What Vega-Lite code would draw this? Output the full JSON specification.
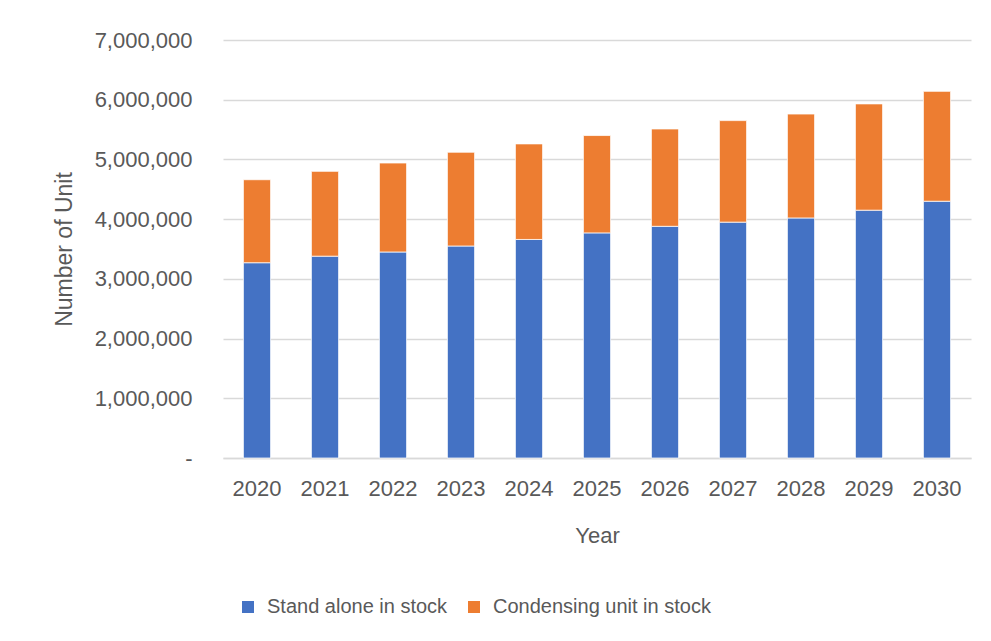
{
  "$schema": "https://vega.github.io/schema/vega-lite/v6.json",
  "width": 748,
  "height": 418,
  "autosize": {"type": "none"},
  "padding": {"left": 223, "top": 40, "right": 20, "bottom": 183},
  "background": "white",
  "data": {
    "values": [
      {"year": "2020", "series": "Stand alone in stock", "units": 3270000},
      {"year": "2020", "series": "Condensing unit in stock", "units": 1390000},
      {"year": "2021", "series": "Stand alone in stock", "units": 3380000},
      {"year": "2021", "series": "Condensing unit in stock", "units": 1420000},
      {"year": "2022", "series": "Stand alone in stock", "units": 3450000},
      {"year": "2022", "series": "Condensing unit in stock", "units": 1490000},
      {"year": "2023", "series": "Stand alone in stock", "units": 3550000},
      {"year": "2023", "series": "Condensing unit in stock", "units": 1570000},
      {"year": "2024", "series": "Stand alone in stock", "units": 3660000},
      {"year": "2024", "series": "Condensing unit in stock", "units": 1600000},
      {"year": "2025", "series": "Stand alone in stock", "units": 3770000},
      {"year": "2025", "series": "Condensing unit in stock", "units": 1630000},
      {"year": "2026", "series": "Stand alone in stock", "units": 3880000},
      {"year": "2026", "series": "Condensing unit in stock", "units": 1630000},
      {"year": "2027", "series": "Stand alone in stock", "units": 3950000},
      {"year": "2027", "series": "Condensing unit in stock", "units": 1700000},
      {"year": "2028", "series": "Stand alone in stock", "units": 4020000},
      {"year": "2028", "series": "Condensing unit in stock", "units": 1740000},
      {"year": "2029", "series": "Stand alone in stock", "units": 4150000},
      {"year": "2029", "series": "Condensing unit in stock", "units": 1780000},
      {"year": "2030", "series": "Stand alone in stock", "units": 4300000},
      {"year": "2030", "series": "Condensing unit in stock", "units": 1840000}
    ]
  },
  "mark": {"type": "bar", "stroke": "white", "strokeWidth": 0.75},
  "encoding": {
    "x": {
      "field": "year",
      "type": "ordinal",
      "title": "Year",
      "scale": {"paddingInner": 0.6, "paddingOuter": 0.3},
      "axis": {
        "labelAngle": 0,
        "ticks": false,
        "tickSize": 0,
        "labelPadding": 20,
        "titlePadding": 26,
        "domain": true,
        "domainColor": "#d9d9d9",
        "domainWidth": 1.5
      }
    },
    "y": {
      "field": "units",
      "type": "quantitative",
      "aggregate": "sum",
      "stack": "zero",
      "title": "Number of Unit",
      "scale": {"domain": [0, 7000000], "nice": false},
      "axis": {
        "values": [0, 1000000, 2000000, 3000000, 4000000, 5000000, 6000000, 7000000],
        "labelExpr": "datum.value == 0 ? '-' : format(datum.value, ',')",
        "domain": false,
        "ticks": false,
        "tickSize": 0,
        "labelPadding": 31,
        "titlePadding": 18,
        "titleFontSize": 23,
        "grid": true,
        "gridColor": "#d9d9d9",
        "gridWidth": 1.5
      }
    },
    "color": {
      "field": "series",
      "type": "nominal",
      "scale": {
        "domain": ["Stand alone in stock", "Condensing unit in stock"],
        "range": ["#4472C4", "#ED7D31"]
      },
      "legend": {
        "title": null,
        "orient": "none",
        "direction": "horizontal",
        "legendX": 15,
        "legendY": 557,
        "symbolType": "square",
        "symbolSize": 144,
        "symbolStrokeWidth": 0,
        "labelOffset": 9,
        "labelLimit": 500,
        "columnPadding": 16,
        "labelFontSize": 20
      }
    },
    "order": {"field": "series", "sort": "descending"}
  },
  "config": {
    "font": "Liberation Sans",
    "view": {"stroke": null},
    "axis": {
      "labelFont": "Liberation Sans",
      "titleFont": "Liberation Sans",
      "labelFontSize": 22,
      "titleFontSize": 22,
      "labelColor": "#595959",
      "titleColor": "#595959",
      "titleFontWeight": "normal"
    },
    "legend": {
      "labelFont": "Liberation Sans",
      "labelColor": "#595959"
    }
  }
}
